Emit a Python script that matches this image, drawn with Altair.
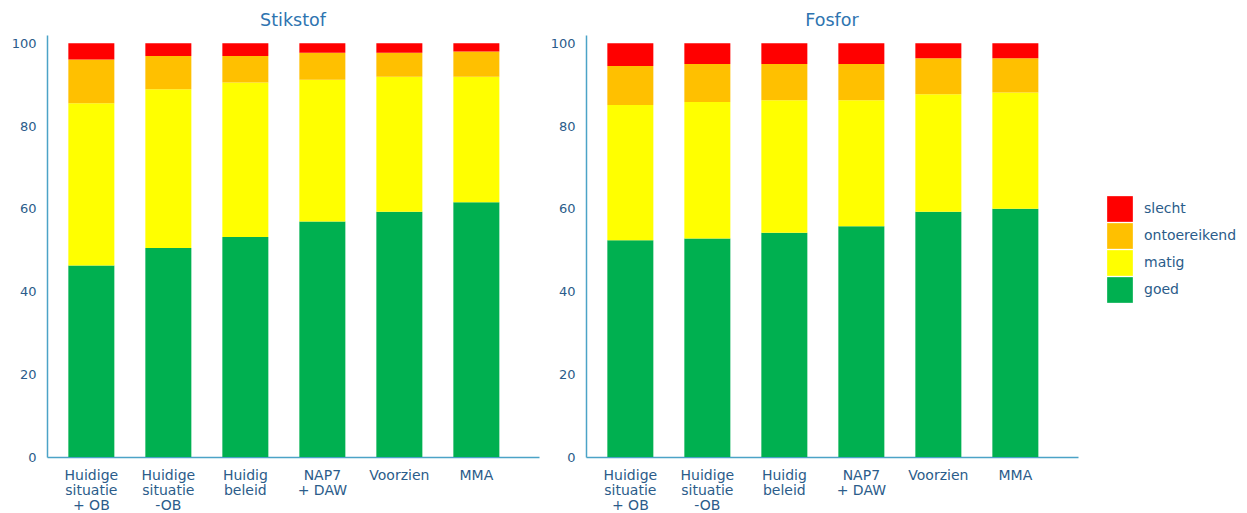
import altair as alt
import pandas as pd

categories = ["Huidige|situatie|+ OB", "Huidige|situatie|-OB", "Huidig|beleid",
              "NAP7|+ DAW", "Voorzien", "MMA"]
classes = ["slecht", "ontoereikend", "matig", "goed"]
class_colors = ["#FF0000", "#FFC000", "#FFFF00", "#00B050"]
y_ticks = [0, 20, 40, 60, 80, 100]

stikstof_goed = [46.3, 50.5, 53.2, 56.9, 59.3, 61.6]
stikstof_matig = [39.2, 38.4, 37.3, 34.3, 32.6, 30.3]
stikstof_ontoereikend = [10.6, 8.0, 6.4, 6.5, 5.8, 6.1]
stikstof_slecht = [3.9, 3.1, 3.1, 2.3, 2.3, 2.0]

fosfor_goed = [52.4, 52.8, 54.2, 55.8, 59.3, 60.0]
fosfor_matig = [32.7, 33.0, 32.0, 30.4, 28.4, 28.1]
fosfor_ontoereikend = [9.4, 9.2, 8.8, 8.8, 8.7, 8.3]
fosfor_slecht = [5.5, 5.0, 5.0, 5.0, 3.6, 3.6]

FONT = "DejaVu Sans"
LABEL_COLOR = "#2B5C8A"
TITLE_COLOR = "#2E74B0"
AXIS_COLOR = "#4BA3C7"


def make_df(series):
    rows = []
    for k, cls in enumerate(["goed", "matig", "ontoereikend", "slecht"]):
        for cat, v in zip(categories, series[cls]):
            rows.append({"cat": cat, "klasse": cls, "waarde": v, "volgorde": k})
    return pd.DataFrame(rows)


def panel(title, series, show_legend):
    df = make_df(series)
    if show_legend:
        legend = alt.Legend(
            title=None, orient="none", legendX=1060, legendY=161,
            symbolType="square", symbolSize=660, symbolStrokeWidth=0,
            symbolOpacity=1, rowPadding=1, labelOffset=11, padding=0,
            labelFont=FONT, labelFontSize=14, labelColor=LABEL_COLOR,
        )
    else:
        legend = None
    return alt.Chart(df, title=alt.Title(
        title, fontSize=17.5, font=FONT, color=TITLE_COLOR, fontWeight="normal",
        offset=3, dy=-3, anchor="middle")).mark_bar().encode(
        x=alt.X("cat:N", sort=categories,
                scale=alt.Scale(paddingInner=0.4026, paddingOuter=0.396, align=0.35),
                axis=alt.Axis(title=None, labelAngle=0, ticks=False, labelPadding=11,
                              labelExpr="split(datum.label, '|')", labelLineHeight=15,
                              labelFont=FONT, labelFontSize=14, labelColor=LABEL_COLOR,
                              domainColor=AXIS_COLOR, domainWidth=1.5)),
        y=alt.Y("waarde:Q", stack="zero",
                scale=alt.Scale(domain=[0, 102], nice=False),
                axis=alt.Axis(title=None, values=y_ticks, ticks=False, grid=False,
                              labelPadding=11, minExtent=39, maxExtent=39,
                              labelFont=FONT, labelFontSize=13, labelColor=LABEL_COLOR,
                              domainColor=AXIS_COLOR, domainWidth=1.5)),
        color=alt.Color("klasse:N", scale=alt.Scale(domain=classes, range=class_colors),
                        legend=legend),
        order=alt.Order("volgorde:Q", sort="ascending"),
    ).properties(width=492, height=422)


left = panel("Stikstof", {"goed": stikstof_goed, "matig": stikstof_matig,
                          "ontoereikend": stikstof_ontoereikend, "slecht": stikstof_slecht}, True)
right = panel("Fosfor", {"goed": fosfor_goed, "matig": fosfor_matig,
                         "ontoereikend": fosfor_ontoereikend, "slecht": fosfor_slecht}, False)

chart = alt.hconcat(left, right, spacing=8).properties(
    padding={"left": 0, "top": 3, "right": 0, "bottom": 0}
).configure_view(strokeWidth=0)

chart.save("out.html", embed_options={"renderer": "svg", "actions": False})
